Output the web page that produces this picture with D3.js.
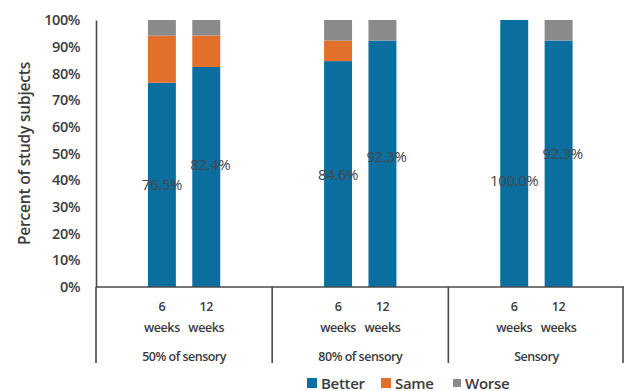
<!DOCTYPE html>
<html>
<head>
<meta charset="utf-8">
<script src="https://cdn.jsdelivr.net/npm/d3@7"></script>
<style>
  html, body { margin: 0; padding: 0; background: #fff; }
  svg { display: block; font-family: "Open Sans", Lato, sans-serif; }
</style>
</head>
<body>
<svg id="chart" width="624" height="391"></svg>
<script>
// Outcome groups and time points
const groups = ["50% of sensory", "80% of sensory", "Sensory"];
const timepoints = ["6 weeks", "12 weeks"];
const seriesNames = ["Better", "Same", "Worse"];

// Percent of subjects per group, listed by time point (6 weeks, 12 weeks)
const better = [[76.5, 82.4], [84.6, 92.3], [100.0, 92.3]];
const same   = [[17.6, 11.8], [7.7, 0.0], [0.0, 0.0]];
const worse  = [[5.9, 5.8], [7.7, 7.7], [0.0, 7.7]];

const yTicks = [0, 10, 20, 30, 40, 50, 60, 70, 80, 90, 100];

const colors = { Better: "#0a6e9f", Same: "#e0702a", Worse: "#8a8a8c" };
const axisColor = "#4a4a4a";
const textColor = "#3c3c3c";

const svg = d3.select("#chart");
const plotLeft = 96, plotRight = 623, plotTop = 20, plotBottom = 287, catBottom = 363;

const x0 = d3.scaleBand().domain(groups).range([plotLeft, plotRight + 1.5]);
const x1 = d3.scaleBand().domain(timepoints).range([0, x0.bandwidth()])
  .paddingInner(0.37).paddingOuter(1.17);
const y = d3.scaleLinear().domain([0, 100]).range([plotBottom, plotTop]);

// Flatten into rows for stacking
const rows = [];
groups.forEach((g, gi) => timepoints.forEach((t, ti) => {
  rows.push({ group: g, time: t, Better: better[gi][ti], Same: same[gi][ti], Worse: worse[gi][ti] });
}));
const stacked = d3.stack().keys(seriesNames)(rows);

// Bars
svg.append("g").selectAll("g").data(stacked).join("g")
  .attr("fill", d => colors[d.key])
  .selectAll("rect").data(d => d).join("rect")
  .attr("x", d => x0(d.data.group) + x1(d.data.time))
  .attr("width", x1.bandwidth())
  .attr("y", d => y(d[1]))
  .attr("height", d => y(d[0]) - y(d[1]));

// Y axis
const yAxis = svg.append("g").attr("transform", `translate(${plotLeft},0)`)
  .call(d3.axisLeft(y).tickValues(yTicks).tickFormat(d => d + "%").tickSize(0).tickPadding(16));
yAxis.select(".domain").attr("stroke", axisColor).attr("stroke-width", 1.6);
yAxis.selectAll("text").attr("fill", textColor).attr("font-size", 14.5)
  .attr("font-weight", 600).attr("letter-spacing", -0.4)
  .attr("font-family", "'Open Sans', sans-serif");

svg.append("text")
  .attr("transform", `translate(30,${(plotTop + plotBottom) / 2 + 0}) rotate(-90)`)
  .attr("text-anchor", "middle")
  .attr("fill", textColor).attr("font-size", 15.5).attr("font-weight", 600)
  .attr("letter-spacing", -0.2)
  .text("Percent of study subjects");

// Baseline and group dividers
svg.append("line").attr("x1", plotLeft).attr("x2", plotRight + 1).attr("y1", y(0)).attr("y2", y(0))
  .attr("stroke", axisColor).attr("stroke-width", 1.6);
const dividers = groups.map(g => x0(g)).concat([plotRight]);
svg.append("g").selectAll("line").data(dividers).join("line")
  .attr("x1", d => d).attr("x2", d => d)
  .attr("y1", y(0)).attr("y2", catBottom)
  .attr("stroke", axisColor).attr("stroke-width", 1.6);

// Time point labels
const tl = svg.append("g").attr("fill", textColor).attr("font-size", 12.5)
  .attr("font-weight", 600).attr("text-anchor", "middle").attr("letter-spacing", -0.4);
rows.forEach(r => {
  const cx = x0(r.group) + x1(r.time) + x1.bandwidth() / 2;
  const parts = r.time.split(" ");
  tl.append("text").attr("x", cx).attr("y", 311).text(parts[0]);
  tl.append("text").attr("x", cx).attr("y", 332).text(parts[1]);
});
// Group labels
svg.append("g").selectAll("text").data(groups).join("text")
  .attr("x", d => x0(d) + x0.bandwidth() / 2)
  .attr("y", 361)
  .attr("text-anchor", "middle")
  .attr("fill", textColor).attr("font-size", 12.5).attr("font-weight", 600)
  .attr("letter-spacing", -0.5)
  .text(d => d);

// Value labels on the "Better" segment
const labelNudge = [[0, -12], [1, -7], [27, -10]];
const labelShift = [0, 4];
const vl = svg.append("g").attr("fill", "#474747").attr("font-size", 15)
  .attr("text-anchor", "middle").attr("letter-spacing", -0.4);
groups.forEach((g, gi) => timepoints.forEach((t, ti) => {
  const v = better[gi][ti];
  vl.append("text")
    .attr("x", x0(g) + x1(t) + x1.bandwidth() / 2 + labelShift[ti])
    .attr("y", y(v / 2) + 5 + labelNudge[gi][ti])
    .text(v.toFixed(1) + "%");
}));

// Legend
const legendItems = [
  { key: "Better", x: 307, size: 10 },
  { key: "Same", x: 381, size: 10 },
  { key: "Worse", x: 453, size: 8 }
];
const lg = svg.append("g");
legendItems.forEach(it => {
  lg.append("rect").attr("x", it.x).attr("y", 383 - it.size / 2)
    .attr("width", it.size).attr("height", it.size).attr("fill", colors[it.key]);
  lg.append("text").attr("x", it.x + (it.key === "Worse" ? 12 : 14)).attr("y", 388.5)
    .attr("fill", textColor).attr("font-size", 15).attr("font-weight", 600)
    .attr("letter-spacing", -0.3)
    .text(it.key);
});
</script>
</body>
</html>
